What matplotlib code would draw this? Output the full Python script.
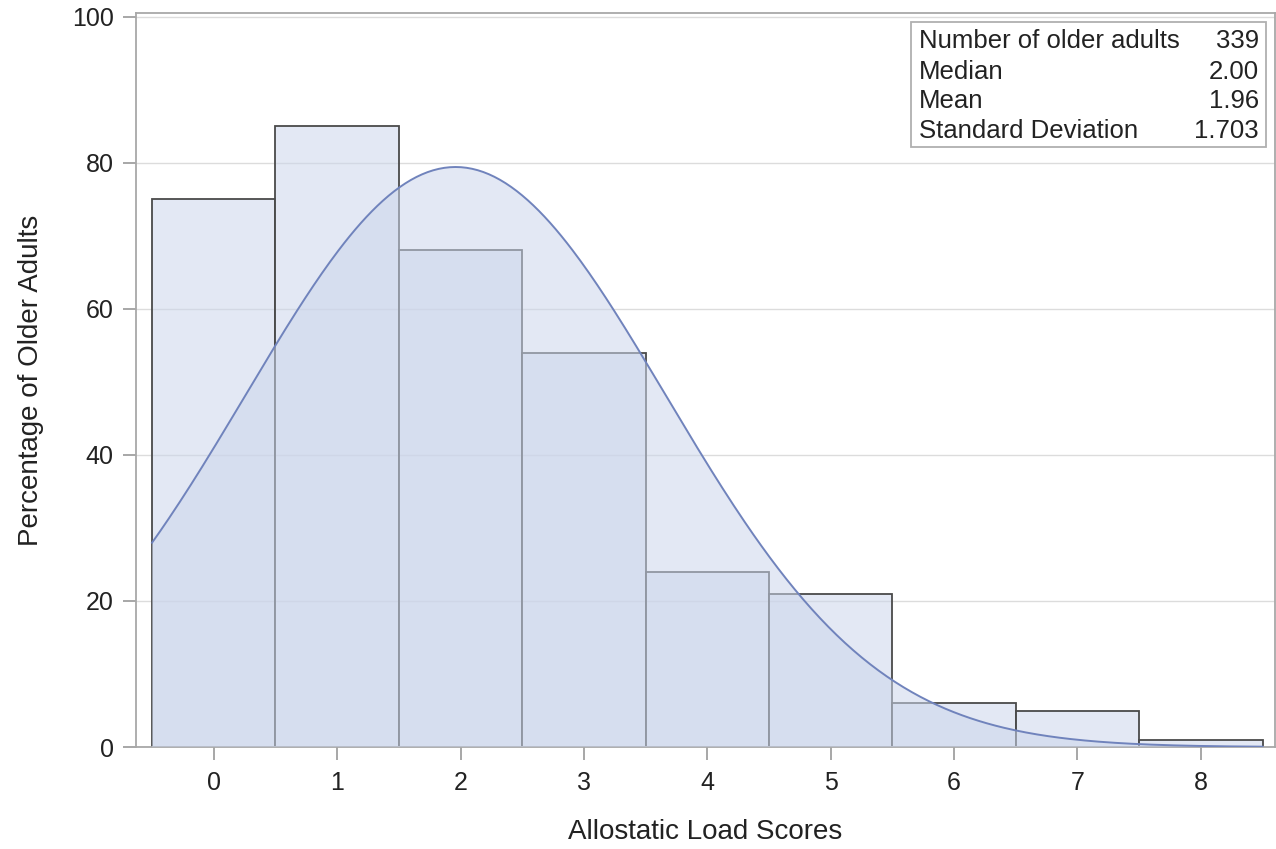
import numpy as np
import matplotlib
matplotlib.use('Agg')
from matplotlib import pyplot as plt
from matplotlib.patches import Rectangle

# histogram counts
scores = [0, 1, 2, 3, 4, 5, 6, 7, 8]
counts = [75, 85, 68, 54, 24, 21, 6, 5, 1]

# summary stats from the inset
stat_names = ['Number of older adults', 'Median', 'Mean', 'Standard Deviation']
stat_values = ['339', '2.00', '1.96', '1.703']
n_obs = 339
mean = 1.96
sd = 1.703

plt.rcParams['font.family'] = ['Liberation Sans', 'DejaVu Sans']

fig = plt.figure(figsize=(12.76, 8.49), dpi=100)
ax = fig.add_axes([0.1066, 0.1201, 0.8925, 0.8646])

fill = (0.80, 0.84, 0.92, 0.55)
ax.bar(scores, counts, width=1.0, facecolor=fill,
       edgecolor='#4a4a4a', linewidth=1.3, zorder=2)

# fitted normal curve
xs = np.linspace(-0.5, 8.5, 400)
ys = n_obs / (sd * np.sqrt(2 * np.pi)) * np.exp(-0.5 * ((xs - mean) / sd) ** 2)
ax.fill_between(xs, 0, ys, facecolor=fill, linewidth=0, zorder=3)
ax.plot(xs, ys, color='#7083BC', linewidth=1.4, zorder=4)

ax.set_xlim(-0.63, 8.6)
ax.set_ylim(0, 100.5)
ax.set_xticks(scores)
ax.set_yticks([0, 20, 40, 60, 80, 100])
ax.yaxis.grid(True, color='#dcdcdc', linewidth=1)
ax.set_axisbelow(True)
for s in ax.spines.values():
    s.set_color('#a8a8a8')
    s.set_linewidth(1.3)
ax.tick_params(colors='#a0a0a0', labelcolor='#222222', labelsize=18, length=9.5, width=1.3)
ax.tick_params(axis='x', pad=8)
ax.tick_params(axis='y', pad=6.5)

ax.set_xlabel('Allostatic Load Scores', fontsize=20, color='#222222', labelpad=17)
ax.set_ylabel('Percentage of Older Adults', fontsize=20, color='#222222', labelpad=20)

# inset stats table
x0, x1 = (911 - 136) / 1139, (1266 - 136) / 1139
y0, y1 = (747 - 147) / 734, (747 - 22) / 734
ax.add_patch(Rectangle((x0, y0), x1 - x0, y1 - y0, transform=ax.transAxes,
                       facecolor='white', edgecolor='#b0b0b0', linewidth=1.3, zorder=5))
rows_y = [41, 72, 101, 131]
for name, val, py in zip(stat_names, stat_values, rows_y):
    ty = (747 - py) / 734
    ax.text((919 - 136) / 1139, ty, name, transform=ax.transAxes, fontsize=18.5,
            va='center', ha='left', color='#222222', zorder=6)
    ax.text((1259 - 136) / 1139, ty, val, transform=ax.transAxes, fontsize=18.5,
            va='center', ha='right', color='#222222', zorder=6)

fig.savefig('out.png', dpi=100)
